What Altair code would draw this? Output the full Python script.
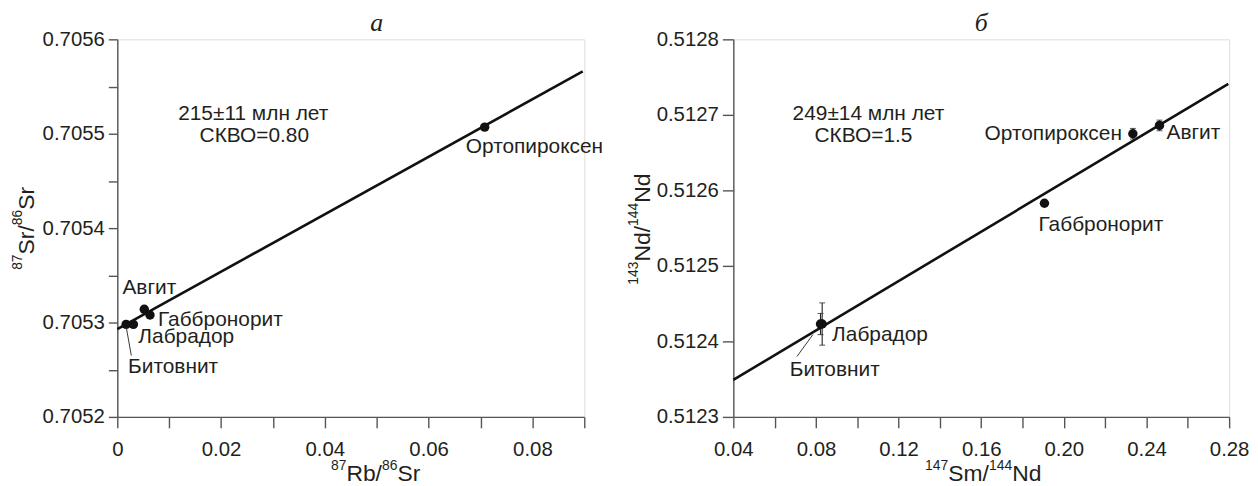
import altair as alt
import pandas as pd

FONT = "Liberation Sans"
TXT = "#231f20"
AX = "#555555"

# ---------------- Panel а : Rb–Sr ----------------
a_names = ["Битовнит", "Лабрадор", "Авгит", "Габбронорит", "Ортопироксен"]
a_rb = [0.0017, 0.0031, 0.0052, 0.0063, 0.0708]
a_sr = [0.705298, 0.705298, 0.705314, 0.705308, 0.705507]
a_iso_x = [0.0, 0.0897]
a_iso_y = [0.705293, 0.705566]
a_x_ticks = [0.00, 0.01, 0.02, 0.03, 0.04, 0.05, 0.06, 0.07, 0.08, 0.09]
a_y_ticks = [0.7052, 0.70525, 0.7053, 0.70535, 0.7054, 0.70545, 0.7055, 0.70555, 0.7056]
a_note = ["215±11 млн лет", "СКВО=0.80"]
a_note_x = [0.0262, 0.0264]
a_note_y = [0.705521, 0.705498]
a_leader_x = [0.0017, 0.0027]
a_leader_y = [0.705296, 0.705265]
a_xtitle = [("87", True), ("Rb/", False), ("86", True), ("Sr", False)]
a_ytitle = [("87", True), ("Sr/", False), ("86", True), ("Sr", False)]

# ---------------- Panel б : Sm–Nd ----------------
b_names = ["Битовнит", "Лабрадор", "Габбронорит", "Ортопироксен", "Авгит"]
b_sm = [0.0822, 0.0830, 0.1906, 0.2334, 0.2463]
b_nd = [0.512423, 0.512423, 0.512583, 0.512675, 0.512686]
b_err = [0.000014, 0.000028, 0.0, 0.000007, 0.000007]
b_iso_x = [0.04, 0.2796]
b_iso_y = [0.512349, 0.512741]
b_x_ticks = [0.04, 0.06, 0.08, 0.10, 0.12, 0.14, 0.16, 0.18, 0.20, 0.22, 0.24, 0.26, 0.28]
b_y_ticks = [0.5123, 0.51235, 0.5124, 0.51245, 0.5125, 0.51255, 0.5126, 0.51265,
             0.5127, 0.51275, 0.5128]
b_note = ["249±14 млн лет", "СКВО=1.5"]
b_note_x = [0.1054, 0.1030]
b_note_y = [0.5127013, 0.5126724]
b_leader_x = [0.0785, 0.0708]
b_leader_y = [0.512409, 0.512380]
b_xtitle = [("147", True), ("Sm/", False), ("144", True), ("Nd", False)]
b_ytitle = [("143", True), ("Nd/", False), ("144", True), ("Nd", False)]

# label placement (pixel offsets from the point)
a_label_pos = {"Авгит": (-22, -21, "left"), "Габбронорит": (8, 5, "left"),
               "Лабрадор": (5, 13, "left"), "Битовнит": (2, 43, "left"),
               "Ортопироксен": (-19, 20, "left")}
b_label_pos = {"Ортопироксен": (-11, 0, "right"), "Авгит": (7, 8, "left"),
               "Габбронорит": (-6, 22, "left"), "Лабрадор": (10, 11, "left"),
               "Битовнит": (-31, 46, "left")}

MAIN, SUP, RAISE = 23, 14, 12
CW = {"0": .556, "1": .556, "2": .556, "3": .556, "4": .556, "5": .556, "6": .556,
      "7": .556, "8": .556, "9": .556, "R": .722, "b": .556, "/": .278, "S": .667,
      "r": .333, "m": .833, "N": .722, "d": .556}


def title_layers(pieces, x0, y0, vertical):
    out = []
    pos = 0.0
    one = pd.DataFrame({"k": [0]})
    for txt, sup in pieces:
        fs = SUP if sup else MAIN
        w = sum(CW[c] for c in txt) * fs
        if vertical:
            px, py = x0 - (RAISE if sup else 0), y0 - pos
            mk = alt.Chart(one).mark_text(font=FONT, fontSize=fs, color=TXT, angle=270,
                                          align="left", baseline="alphabetic")
        else:
            px, py = x0 + pos, y0 - (RAISE if sup else 0)
            mk = alt.Chart(one).mark_text(font=FONT, fontSize=fs, color=TXT,
                                          align="left", baseline="alphabetic")
        out.append(mk.encode(x=alt.value(px), y=alt.value(py), text=alt.value(txt)))
        pos += w
    return out


def axis(values, expr, tick, pad):
    return alt.Axis(values=values, labelExpr=expr, title="", grid=False,
                    tickSize=tick, labelPadding=pad, labelFontSize=20.5, labelFont=FONT,
                    labelColor=TXT, domainColor=AX, tickColor=AX, domainWidth=1.4,
                    tickWidth=1.4, labelFlush=False, labelOverlap=False, labelBound=False)


def panel(names, xs, ys, errs, iso_x, iso_y, note, note_x, note_y, lead_x, lead_y,
          label_pos, xdom, ydom, xaxis, yaxis, w, h, letter, letter_dx,
          xt, xt_pos, yt, yt_pos):
    pts = pd.DataFrame({"name": names, "x": xs, "y": ys})
    xs_ = alt.Scale(domain=xdom, nice=False, zero=False)
    ys_ = alt.Scale(domain=ydom, nice=False, zero=False)
    base = alt.Chart(pts)

    iso = alt.Chart(pd.DataFrame({"x": iso_x, "y": iso_y})).mark_line(
        color="#111111", strokeWidth=2.6).encode(
        x=alt.X("x:Q", scale=xs_, axis=xaxis), y=alt.Y("y:Q", scale=ys_, axis=yaxis))

    layers = [iso]
    if errs is not None:
        e = pd.DataFrame({"x": xs, "lo": [y - d for y, d in zip(ys, errs)],
                          "hi": [y + d for y, d in zip(ys, errs)], "d": errs})
        e = e[e["d"] > 0]
        eb = alt.Chart(e)
        layers.append(eb.mark_rule(color="#222222", strokeWidth=1.1).encode(
            x="x:Q", y="lo:Q", y2="hi:Q"))
        layers.append(eb.mark_tick(color="#222222", orient="horizontal", size=6,
                                   thickness=1.1).encode(x="x:Q", y="lo:Q"))
        layers.append(eb.mark_tick(color="#222222", orient="horizontal", size=6,
                                   thickness=1.1).encode(x="x:Q", y="hi:Q"))

    layers.append(base.mark_point(filled=True, size=90, opacity=1, color="#111111").encode(
        x="x:Q", y="y:Q"))

    lead = alt.Chart(pd.DataFrame({"x": lead_x, "y": lead_y})).mark_line(
        color="#222222", strokeWidth=0.9).encode(x="x:Q", y="y:Q")
    layers.append(lead)

    for n, (dx, dy, al) in label_pos.items():
        layers.append(alt.Chart(pts[pts["name"] == n]).mark_text(
            font=FONT, fontSize=21, color=TXT, dx=dx, dy=dy, align=al,
            baseline="middle").encode(x="x:Q", y="y:Q", text="name:N"))

    nt = pd.DataFrame({"t": note, "x": note_x, "y": note_y})
    layers.append(alt.Chart(nt).mark_text(font=FONT, fontSize=21, color=TXT,
                                          align="center", baseline="middle").encode(
        x="x:Q", y="y:Q", text="t:N"))

    layers += title_layers(xt, xt_pos[0], xt_pos[1], False)
    layers += title_layers(yt, yt_pos[0], yt_pos[1], True)

    return alt.layer(*layers).properties(
        width=w, height=h,
        title=alt.TitleParams(letter, font="Liberation Serif", fontStyle="italic",
                              fontSize=26, fontWeight="normal", color=TXT,
                              anchor="middle", frame="group", dx=letter_dx, offset=-7))


a_yexpr = "round(datum.value*100000) % 10 == 0 ? format(datum.value, '.4f') : ''"
a_xexpr = ("datum.value == 0 ? '0' : (round(datum.value*100) % 2 == 0 ? "
           "format(datum.value, '.2f') : '')")
b_xexpr = "round(datum.value*100) % 4 == 0 ? format(datum.value, '.2f') : ''"

left = panel(a_names, a_rb, a_sr, None, a_iso_x, a_iso_y, a_note, a_note_x, a_note_y,
             a_leader_x, a_leader_y, a_label_pos, [0, 0.09], [0.7052, 0.7056],
             axis(a_x_ticks, a_xexpr, 11, 12), axis(a_y_ticks, a_yexpr, 9, 4),
             470, 380, "а", 26, a_xtitle, (215, 445), a_ytitle, (-84, 232))

right = panel(b_names, b_sm, b_nd, b_err, b_iso_x, b_iso_y, b_note, b_note_x, b_note_y,
              b_leader_x, b_leader_y, b_label_pos, [0.04, 0.28], [0.5123, 0.5128],
              axis(b_x_ticks, b_xexpr, 11, 12), axis(b_y_ticks, a_yexpr, 11, 4),
              499, 380, "б", 0, b_xtitle, (193, 445), b_ytitle, (-84, 247))

chart = alt.hconcat(left, right, spacing=150, bounds="flush").properties(
    padding={"left": 2, "top": 0, "right": 0, "bottom": 0}
).configure_view(stroke=None).configure(background="white")

chart.save("out.html", embed_options={"renderer": "svg", "actions": False})
